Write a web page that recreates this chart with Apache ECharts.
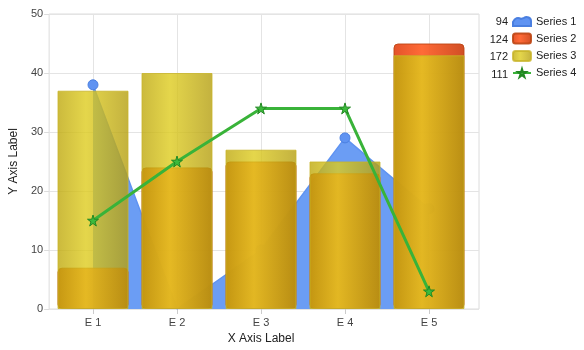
<!DOCTYPE html>
<html><head><meta charset="utf-8">
<script src="https://cdn.jsdelivr.net/npm/echarts@6/dist/echarts.min.js"></script>
<style>html,body{margin:0;padding:0;background:#fff}#c{width:584px;height:350px}</style>
</head><body><div id="c"></div>
<script>
var categories = ['E 1', 'E 2', 'E 3', 'E 4', 'E 5'];
var series1 = [38, 0, 10, 29, 17];
var series2 = [7, 24, 25, 23, 45];
var series3 = [37, 40, 27, 25, 43];
var series4 = [15, 25, 34, 34, 3];
var seriesNames = ['Series 1', 'Series 2', 'Series 3', 'Series 4'];
var yTicks = {min: 0, max: 50, interval: 10};

function sum(a){return a.reduce(function(s,v){return s+v;},0);}
var totals = [sum(series1), sum(series2), sum(series3), sum(series4)];
var FONT = '"Liberation Sans", Arial, sans-serif';
var STAR = 'path://M50,0 L61,35 L98,35 L68,57 L79,91 L50,70 L21,91 L32,57 L2,35 L39,35 Z';

function lg(stops){return {type:'linear',x:0,y:0,x2:1,y2:0,colorStops:stops.map(function(s){return {offset:s[0],color:s[1]};})};}

var chart = echarts.init(document.getElementById('c'));
var legendTop = 11, rowH = 17.5;
chart.setOption({
  animation: false,
  textStyle: {fontFamily: FONT},
  grid: [
    {left: 44, right: 105, top: 14, bottom: 41, show: true, borderColor: '#dcdcdc', borderWidth: 1, containLabel: false},
    {left: 51, right: 113, top: 14, bottom: 41, containLabel: false}
  ],
  xAxis: [
    {gridIndex: 0, type: 'value', show: false, min: 0, max: 1},
    {gridIndex: 1, type: 'category', data: categories, boundaryGap: true,
      axisLine: {show: false},
      axisTick: {show: true, alignWithLabel: true, length: 5, lineStyle: {color: '#cccccc'}},
      splitLine: {show: true, alignWithLabel: true, lineStyle: {color: '#e4e4e4'}},
      axisLabel: {color: '#444', fontSize: 11, fontFamily: FONT, margin: 8},
      name: 'X Axis Label', nameLocation: 'middle', nameGap: 21,
      nameTextStyle: {color: '#222', fontSize: 12, fontFamily: FONT}}
  ],
  yAxis: [
    {gridIndex: 0, type: 'value', min: yTicks.min, max: yTicks.max, interval: yTicks.interval,
      axisLine: {show: false},
      axisTick: {show: true, length: 5, lineStyle: {color: '#dcdcdc'}},
      splitLine: {show: true, lineStyle: {color: '#e4e4e4'}},
      axisLabel: {color: '#444', fontSize: 11, fontFamily: FONT, margin: 6},
      name: 'Y Axis Label', nameLocation: 'middle', nameGap: 27,
      nameTextStyle: {color: '#222', fontSize: 12, fontFamily: FONT}},
    {gridIndex: 1, type: 'value', min: yTicks.min, max: yTicks.max, interval: yTicks.interval, show: false}
  ],
  legend: {
    orient: 'vertical', left: 507, top: legendTop, itemWidth: 18, itemHeight: 10, itemGap: 5.5,
    textStyle: {color: '#222', fontSize: 11, fontFamily: FONT},
    data: [
      {name: seriesNames[0], icon: 'path://M0,10 L0,6 C2,2 5,1 8,3 L11,2 C14,0 18,2 18,5 L18,10 Z'},
      {name: seriesNames[1], icon: 'roundRect'},
      {name: seriesNames[2], icon: 'roundRect'},
      {name: seriesNames[3]}
    ]
  },
  graphic: totals.map(function(t, i){
    return {type: 'text', x: 508, y: legendTop + 11 + i * rowH,
      style: {text: String(t), align: 'right', verticalAlign: 'middle', font: '11px ' + FONT, fill: '#222'}};
  }),
  series: [
    {name: seriesNames[0], type: 'line', xAxisIndex: 1, yAxisIndex: 1, data: series1, z: 1,
      symbol: 'circle', symbolSize: function(v){ return v > 0 ? 10 : 0; }, showAllSymbol: true,
      itemStyle: {color: '#5f93f2', borderColor: '#4a7fe0', borderWidth: 1},
      lineStyle: {color: '#5f93f2', width: 1.5},
      areaStyle: {color: '#6b9df4', opacity: 1}},
    {name: seriesNames[1], type: 'bar', xAxisIndex: 1, yAxisIndex: 1, data: series2, z: 2,
      barWidth: 71, barGap: '-100%',
      itemStyle: {color: lg([[0,'rgba(225,70,25,0.93)'],[0.4,'rgba(255,95,40,0.93)'],[1,'rgba(205,65,20,0.93)']]),
        borderColor: 'rgba(190,70,20,0.9)', borderWidth: 1, borderRadius: 4}},
    {name: seriesNames[2], type: 'bar', xAxisIndex: 1, yAxisIndex: 1, data: series3, z: 3,
      barWidth: 71, barGap: '-100%',
      itemStyle: {color: lg([[0,'rgba(190,168,12,0.8)'],[0.4,'rgba(222,204,30,0.8)'],[1,'rgba(180,158,15,0.8)']]),
        borderColor: 'rgba(200,180,40,0.8)', borderWidth: 1}},
    {name: seriesNames[3], type: 'line', xAxisIndex: 1, yAxisIndex: 1, data: series4, z: 4,
      symbol: STAR, symbolSize: 11,
      itemStyle: {color: '#3cba3c', borderColor: '#228822', borderWidth: 1},
      lineStyle: {color: '#39b339', width: 3}}
  ]
});
</script></body></html>
